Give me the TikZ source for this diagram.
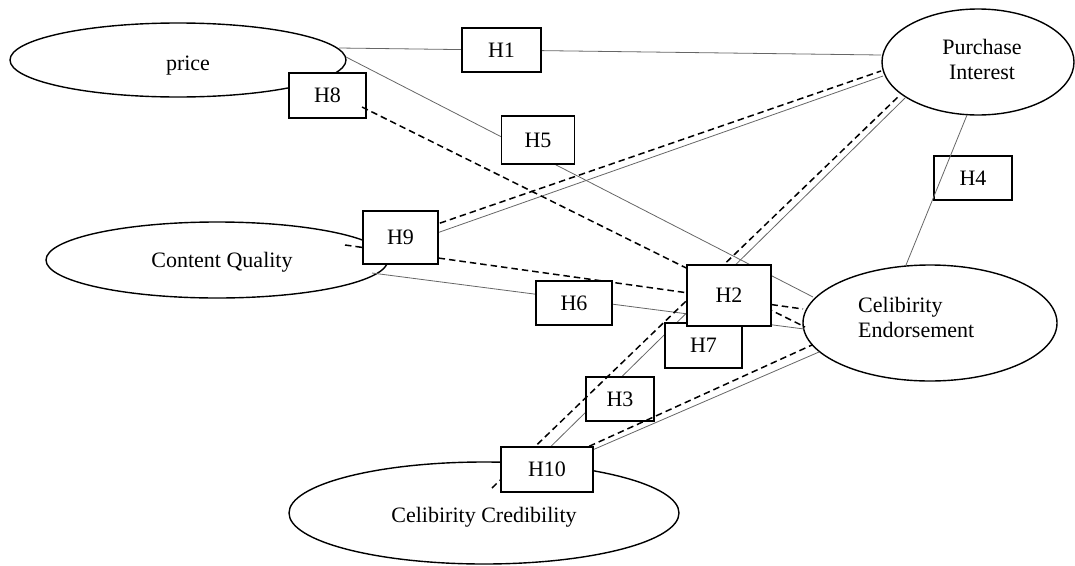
\documentclass[tikz,border=0pt]{standalone}
\usepackage{fontspec}
\setmainfont{Liberation Serif}
\usetikzlibrary{shapes.geometric}
\begin{document}
\begin{tikzpicture}[x=1pt,y=-1pt,
  construct/.style={draw=black,line width=1.4pt,ellipse,inner sep=0pt,fill=white},
  hbox/.style={draw=black,line width=1.4pt,fill=white,inner sep=0pt,font=\fontsize{22}{25}\selectfont},
  lbl/.style={font=\fontsize{22}{25}\selectfont,inner sep=0pt},
  rel/.style={draw=black!60,line width=0.8pt},
  med/.style={draw=black,line width=1.5pt,dash pattern=on 6.5pt off 4pt},
]
\useasboundingbox (0,0) rectangle (1075,565);

% constructs
\node[construct,minimum width=336pt,minimum height=74pt] (price) at (178,60) {};
\node[construct,minimum width=192pt,minimum height=106pt] (pi) at (978,62) {};
\node[construct,minimum width=342pt,minimum height=76pt] (cq) at (217,260) {};
\node[construct,minimum width=254pt,minimum height=116pt] (ce) at (930,323) {};
\node[construct,minimum width=390pt,minimum height=102pt] (cc) at (484,513) {};

\node[lbl,anchor=base] (tprice) at (188,70) {price};
\node[lbl,anchor=base,align=center] (tpi) at (982,79) {Purchase\\Interest};
\node[lbl,anchor=base] (tcq) at (222,267) {Content Quality};
\node[lbl,anchor=base west,align=left] (tce) at (858,337) {Celibirity\\Endorsement};
\node[lbl,anchor=base] (tcc) at (484,522) {Celibirity Credibility};

% end points of connectors
\coordinate (s1a) at (339,48);  \coordinate (s1b) at (881,55);
\coordinate (s2a) at (346,57);  \coordinate (s2b) at (813,297);
\coordinate (s3a) at (400,246); \coordinate (s3b) at (883,76);
\coordinate (s4a) at (372,273); \coordinate (s4b) at (804,329);
\coordinate (s5a) at (967,115); \coordinate (s5b) at (906,265);
\coordinate (s6a) at (530,467); \coordinate (s6b) at (905,98);
\coordinate (s7a) at (560,464); \coordinate (s7b) at (819,352);

\coordinate (d1a) at (362,107); \coordinate (d1b) at (805,327);
\coordinate (d2a) at (345,245); \coordinate (d2b) at (803,309);
\coordinate (d3a) at (420,230); \coordinate (d3b) at (881,71);
\coordinate (d4a) at (492,488); \coordinate (d4b) at (900,95);
\coordinate (d5a) at (570,455); \coordinate (d5b) at (812,345);

% solid relations
\draw[rel] (s1a) -- (s1b);
\draw[rel] (s2a) -- (s2b);
\draw[rel] (s3a) -- (s3b);
\draw[rel] (s4a) -- (s4b);
\draw[rel] (s6a) -- (s6b);
\draw[rel] (s7a) -- (s7b);

\node[hbox,minimum width=68pt,minimum height=44pt] (h3) at (620,399) {H3};
\node[hbox,minimum width=78pt,minimum height=44pt] (h4) at (973,178) {H4};
\draw[rel] (s5a) -- (s5b);
\node[hbox,minimum width=77pt,minimum height=45pt] (h8) at (327.5,95.5) {H8};

% dashed relations
\draw[med] (d1a) -- (d1b);
\draw[med] (d2a) -- (d2b);
\draw[med] (d3a) -- (d3b);
\draw[med] (d4a) -- (d4b);
\draw[med] (d5a) -- (d5b);

% hypothesis boxes
\node[hbox,minimum width=79pt,minimum height=44pt] (h1) at (501.5,50) {H1};
\node[hbox,minimum width=73pt,minimum height=48pt] (h5) at (538,140) {H5};
\node[hbox,minimum width=76pt,minimum height=44pt] (h6) at (574,303) {H6};
\node[hbox,minimum width=75pt,minimum height=53pt] (h9) at (400.5,237.5) {H9};
\node[hbox,minimum width=92pt,minimum height=45pt] (h10) at (547,469.5) {H10};
\node[hbox,minimum width=77pt,minimum height=45pt] (h7) at (703.5,345.5) {H7};
\node[hbox,minimum width=84pt,minimum height=61pt] (h2) at (729,295.5) {H2};
\end{tikzpicture}
\end{document}
